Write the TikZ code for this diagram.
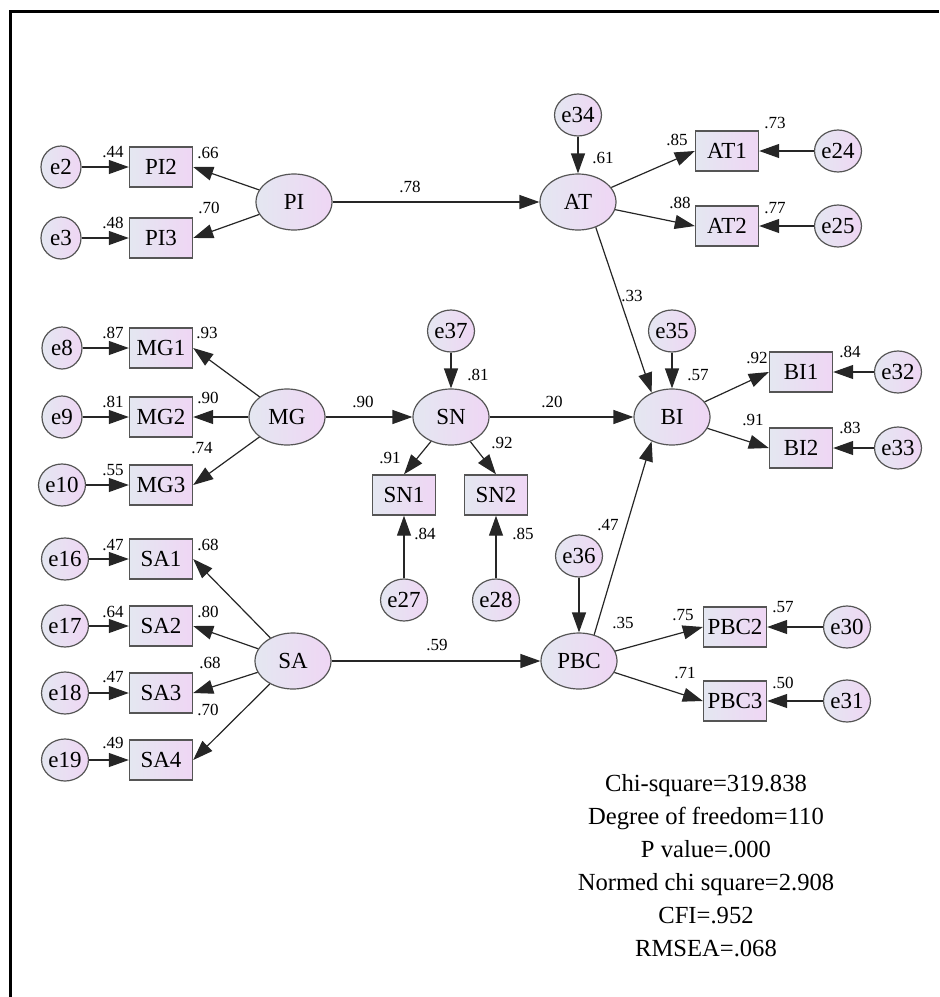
\documentclass[tikz,border=0pt]{standalone}
\usepackage{fontspec}
\setmainfont{Liberation Serif}
\usetikzlibrary{arrows.meta, shapes.geometric}

\definecolor{semleft}{RGB}{228,231,241}
\definecolor{semright}{RGB}{239,214,244}
\definecolor{semline}{RGB}{85,85,85}

\tikzset{
  obs/.style={draw=semline, line width=0.7pt, left color=semleft, right color=semright,
    minimum width=31.5pt, minimum height=20pt, inner sep=0pt, font=\fontsize{11.5}{12}\selectfont},
  lat/.style={ellipse, draw=semline, line width=0.6pt, left color=semleft, right color=semright,
    minimum width=38pt, minimum height=28pt, inner sep=0pt, font=\fontsize{11.5}{12}\selectfont},
  err/.style={lat, minimum width=20pt, minimum height=21pt},
  conn/.style={-{Triangle[length=10pt, width=7pt]}, line width=0.6pt, draw=black!85},
  est/.style={font=\fontsize{8.5}{9}\selectfont, inner sep=0pt}
}

\begin{document}
\begin{tikzpicture}[x=0.5pt, y=-0.5pt]
  \useasboundingbox (0,0) rectangle (939,997);
  \draw[line width=1.5pt] (10,997) -- (10,11) -- (939,11);

  \foreach \n/\x/\y in {PI2/161/167, PI3/161/238, MG1/161/348, MG2/161/417, MG3/161/485,
      SA1/161/559, SA2/161/626, SA3/161/693, SA4/161/760, AT1/727/151, AT2/727/226,
      SN1/404/495, SN2/496/495, BI1/801/372, BI2/801/448, PBC2/735/627, PBC3/735/701}
    \node[obs] (\n) at (\x,\y) {\n};

  \foreach \n/\x/\y in {PI/294/202, MG/287/417, SA/293/661, AT/578/202, SN/451/417,
      BI/672/417, PBC/579/661}
    \node[lat] (\n) at (\x,\y) {\n};

  \foreach \n/\x/\y in {e2/61/167, e3/61/238, e8/62/348, e9/62/417, e10/62/485,
      e16/65/559, e17/65/626, e18/65/693, e19/65/760, e24/838/151, e25/838/226,
      e32/898/372, e33/898/448, e30/847/627, e31/847/701, e34/578/115, e35/672/331,
      e37/451/331, e36/579/556, e27/404/600, e28/496/600}
    \node[err] (\n) at (\x,\y) {\n};

  \foreach \a/\b in {e2/PI2, e3/PI3, e8/MG1, e9/MG2, e10/MG3, e16/SA1, e17/SA2, e18/SA3,
      e19/SA4, e24/AT1, e25/AT2, e32/BI1, e33/BI2, e30/PBC2, e31/PBC3, e34/AT, e35/BI,
      e37/SN, e36/PBC, e27/SN1, e28/SN2}
    \draw[conn] (\a) -- (\b);

  \foreach \a/\b in {PI/PI2, PI/PI3, MG/MG1, MG/MG2, MG/MG3, SA/SA1, SA/SA2, SA/SA3, SA/SA4}
    \draw[conn] (\a) -- (\b.east);
  \foreach \a/\b in {AT/AT1, AT/AT2, BI/BI1, BI/BI2, PBC/PBC2, PBC/PBC3}
    \draw[conn] (\a) -- (\b.west);
  \draw[conn] (SN) -- (SN1.north);
  \draw[conn] (SN) -- (SN2.north);

  \draw[conn] (PI) -- (AT);
  \draw[conn] (MG) -- (SN);
  \draw[conn] (SN) -- (BI);
  \draw[conn] (SA) -- (PBC);
  \draw[conn] (AT.-55) -- (BI.130);
  \draw[conn] (PBC.60) -- (BI.-130);

  \foreach \x/\y/\t [count=\i] in {113/152/.44, 208/153/.66, 209/208/.70, 113/223/.48,
      113/333/.87, 207/333/.93, 113/402/.81, 208/398/.90, 202/448/.74, 113/470/.55,
      113/545/.47, 208/545/.68, 113/612/.64, 208/612/.80, 210/663/.68, 113/677/.47,
      208/710/.70, 113/743/.49, 410/187/.78, 603/158/.61, 677/140/.85, 775/123/.73,
      680/203/.88, 775/208/.77, 632/296/.33, 698/375/.57, 757/358/.92, 850/352/.84,
      753/420/.91, 850/428/.83, 363/402/.90, 478/375/.81, 552/402/.20, 390/458/.91,
      502/443/.92, 425/534/.84, 523/534/.85, 608/525/.47, 437/645/.59, 623/623/.35,
      683/615/.75, 783/607/.57, 685/673/.71, 783/683/.50}
    \node[est] (est\i) at (\x,\y) {\t};

  \node[font=\fontsize{12.3}{16.5}\selectfont, align=center] (fitstats) at (706,866)
    {Chi-square=319.838\\Degree of freedom=110\\P value=.000\\Normed chi square=2.908\\CFI=.952\\RMSEA=.068};
\end{tikzpicture}
\end{document}
